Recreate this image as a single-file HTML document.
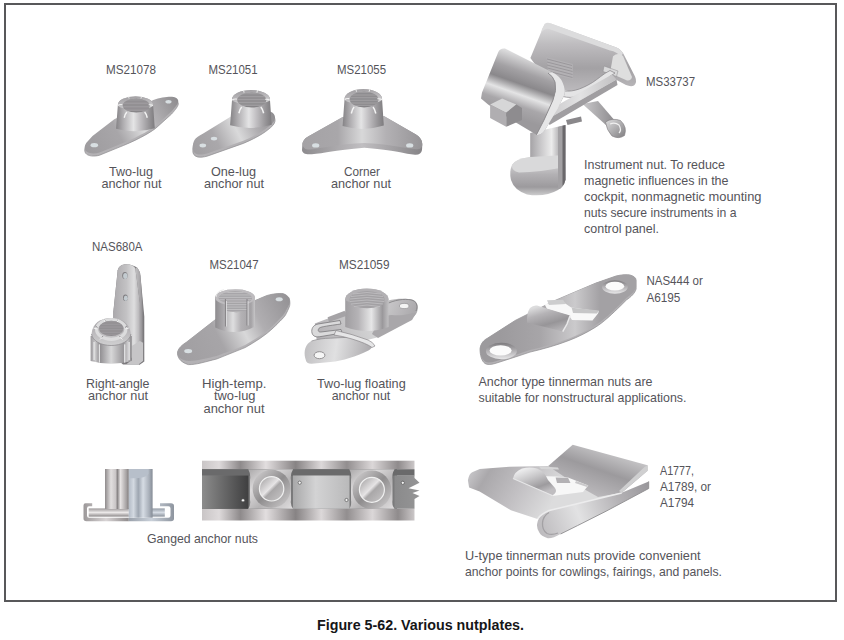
<!DOCTYPE html>
<html><head><meta charset="utf-8">
<style>
html,body{margin:0;padding:0;background:#fff;width:844px;height:640px;overflow:hidden}
svg{display:block;position:absolute;left:0;top:0}
text{font-family:"Liberation Sans",sans-serif;font-size:13px;fill:#55545a}
</style></head><body>
<svg width="844" height="640" viewBox="0 0 844 640">
<defs>
<linearGradient id="gBar" x1="0" y1="0" x2="1" y2="0">
<stop offset="0" stop-color="#858386"/><stop offset="0.18" stop-color="#aeacaf"/><stop offset="0.45" stop-color="#e4e4e5"/><stop offset="0.62" stop-color="#c3c1c4"/><stop offset="0.85" stop-color="#979598"/><stop offset="1" stop-color="#7d7b7e"/>
</linearGradient>
<linearGradient id="gRim" x1="0" y1="0" x2="1" y2="0">
<stop offset="0" stop-color="#9a989b"/><stop offset="0.4" stop-color="#d6d6d7"/><stop offset="0.7" stop-color="#c4c3c5"/><stop offset="1" stop-color="#8c8a8d"/>
</linearGradient>
<linearGradient id="gHole" x1="0" y1="0" x2="0" y2="1">
<stop offset="0" stop-color="#8a888b"/><stop offset="0.6" stop-color="#a3a1a4"/><stop offset="1" stop-color="#b5b3b6"/>
</linearGradient>
<linearGradient id="gPlateA" gradientUnits="userSpaceOnUse" x1="85" y1="150" x2="178" y2="100">
<stop offset="0" stop-color="#9d9b9e"/><stop offset="0.35" stop-color="#a8a6a9"/><stop offset="0.58" stop-color="#dcdcdd"/><stop offset="0.72" stop-color="#b3b1b4"/><stop offset="1" stop-color="#8e8c8f"/>
</linearGradient>
<linearGradient id="gSide" x1="0" y1="0" x2="1" y2="0">
<stop offset="0" stop-color="#8a888b"/><stop offset="0.5" stop-color="#a9a7aa"/><stop offset="1" stop-color="#7f7d80"/>
</linearGradient>
<linearGradient id="gPlateB" gradientUnits="userSpaceOnUse" x1="193" y1="155" x2="275" y2="115">
<stop offset="0" stop-color="#a09ea1"/><stop offset="0.3" stop-color="#aaa8ab"/><stop offset="0.55" stop-color="#d9d9da"/><stop offset="0.75" stop-color="#b0aeb1"/><stop offset="1" stop-color="#8e8c8f"/>
</linearGradient>
<linearGradient id="gPlateC" gradientUnits="userSpaceOnUse" x1="302" y1="140" x2="422" y2="140">
<stop offset="0" stop-color="#a4a2a5"/><stop offset="0.3" stop-color="#a9a7aa"/><stop offset="0.5" stop-color="#d8d8d9"/><stop offset="0.7" stop-color="#b3b1b4"/><stop offset="1" stop-color="#969497"/>
</linearGradient>
<linearGradient id="gSideC" gradientUnits="userSpaceOnUse" x1="302" y1="150" x2="422" y2="150">
<stop offset="0" stop-color="#8d8b8e"/><stop offset="0.5" stop-color="#c0bec1"/><stop offset="1" stop-color="#868487"/>
</linearGradient>
<linearGradient id="gBrk" gradientUnits="userSpaceOnUse" x1="113" y1="0" x2="140" y2="0">
<stop offset="0" stop-color="#aaa8ab"/><stop offset="0.5" stop-color="#c3c2c4"/><stop offset="0.78" stop-color="#dededf"/><stop offset="1" stop-color="#b3b1b4"/>
</linearGradient>
<linearGradient id="gBrkSide" x1="0" y1="0" x2="1" y2="0">
<stop offset="0" stop-color="#c2c1c3"/><stop offset="0.7" stop-color="#a2a0a3"/><stop offset="1" stop-color="#7a787b"/>
</linearGradient>
<linearGradient id="gNutA" gradientUnits="userSpaceOnUse" x1="90.6" y1="0" x2="131.7" y2="0">
<stop offset="0" stop-color="#9c9a9d"/><stop offset="0.12" stop-color="#c9c8ca"/><stop offset="0.22" stop-color="#8f8d90"/><stop offset="0.5" stop-color="#d7d7d8"/><stop offset="0.8" stop-color="#99979a"/><stop offset="0.9" stop-color="#c8c7c9"/><stop offset="1" stop-color="#858386"/>
</linearGradient>
<linearGradient id="gNutTop" x1="0" y1="0" x2="0" y2="1">
<stop offset="0" stop-color="#a3a1a4"/><stop offset="0.5" stop-color="#bab8bb"/><stop offset="1" stop-color="#d0d0d1"/>
</linearGradient>
<linearGradient id="gPlateD" gradientUnits="userSpaceOnUse" x1="178" y1="355" x2="290" y2="297">
<stop offset="0" stop-color="#a09ea1"/><stop offset="0.35" stop-color="#a7a5a8"/><stop offset="0.55" stop-color="#d8d8d9"/><stop offset="0.7" stop-color="#b0aeb1"/><stop offset="1" stop-color="#939194"/>
</linearGradient>
<linearGradient id="gBar2" gradientUnits="userSpaceOnUse" x1="215" y1="0" x2="255" y2="0">
<stop offset="0" stop-color="#8d8b8e"/><stop offset="0.2" stop-color="#a9a7aa"/><stop offset="0.45" stop-color="#dededf"/><stop offset="0.65" stop-color="#b3b1b4"/><stop offset="0.9" stop-color="#a4a2a5"/><stop offset="1" stop-color="#c6c5c7"/>
</linearGradient>
<linearGradient id="gBar3" gradientUnits="userSpaceOnUse" x1="345" y1="0" x2="389" y2="0">
<stop offset="0" stop-color="#9f9da0"/><stop offset="0.3" stop-color="#b5b3b6"/><stop offset="0.6" stop-color="#e6e6e7"/><stop offset="0.85" stop-color="#9a989b"/><stop offset="1" stop-color="#c3c2c4"/>
</linearGradient>
<linearGradient id="gCage" gradientUnits="userSpaceOnUse" x1="315" y1="340" x2="418" y2="300">
<stop offset="0" stop-color="#b1afb2"/><stop offset="0.5" stop-color="#d2d2d3"/><stop offset="1" stop-color="#a9a7aa"/>
</linearGradient>
<linearGradient id="gLobeR" gradientUnits="userSpaceOnUse" x1="388" y1="300" x2="417" y2="312">
<stop offset="0" stop-color="#c9c8ca"/><stop offset="1" stop-color="#a9a7aa"/>
</linearGradient>
<linearGradient id="gLobe" gradientUnits="userSpaceOnUse" x1="306" y1="345" x2="372" y2="355">
<stop offset="0" stop-color="#c2c1c3"/><stop offset="0.45" stop-color="#e0e0e1"/><stop offset="1" stop-color="#a9a7aa"/>
</linearGradient>
<linearGradient id="gBack" gradientUnits="userSpaceOnUse" x1="0" y1="24" x2="0" y2="92">
<stop offset="0" stop-color="#dcdcdd"/><stop offset="0.3" stop-color="#bebcbf"/><stop offset="0.65" stop-color="#a3a1a4"/><stop offset="1" stop-color="#bdbbbe"/>
</linearGradient>
<linearGradient id="gSpring" gradientUnits="userSpaceOnUse" x1="0" y1="75" x2="0" y2="105">
<stop offset="0" stop-color="#dcdcdd"/><stop offset="0.5" stop-color="#b5b3b6"/><stop offset="1" stop-color="#9a989b"/>
</linearGradient>
<linearGradient id="gStrut" x1="0" y1="0" x2="1" y2="0">
<stop offset="0" stop-color="#c9c8ca"/><stop offset="1" stop-color="#8a888b"/>
</linearGradient>
<linearGradient id="gCurl" x1="0" y1="0" x2="1" y2="1">
<stop offset="0" stop-color="#dededf"/><stop offset="1" stop-color="#7f7d80"/>
</linearGradient>
<linearGradient id="gDiag" gradientUnits="userSpaceOnUse" x1="545" y1="0" x2="616" y2="0">
<stop offset="0" stop-color="#c9c8ca"/><stop offset="0.5" stop-color="#e2e2e3"/><stop offset="1" stop-color="#c2c1c3"/>
</linearGradient>
<linearGradient id="gLeftBlk" gradientUnits="userSpaceOnUse" x1="520" y1="55" x2="500" y2="112">
<stop offset="0" stop-color="#dcdcdd"/><stop offset="0.25" stop-color="#a3a1a4"/><stop offset="0.45" stop-color="#8a888b"/><stop offset="0.62" stop-color="#e4e4e5"/><stop offset="0.8" stop-color="#a9a7aa"/><stop offset="1" stop-color="#9b999c"/>
</linearGradient>
<linearGradient id="gArm" gradientUnits="userSpaceOnUse" x1="530" y1="0" x2="566" y2="0">
<stop offset="0" stop-color="#a4a2a5"/><stop offset="0.3" stop-color="#c9c8ca"/><stop offset="0.6" stop-color="#ececec"/><stop offset="0.85" stop-color="#a9a7aa"/><stop offset="1" stop-color="#8c8a8d"/>
</linearGradient>
<linearGradient id="gFoot" gradientUnits="userSpaceOnUse" x1="0" y1="160" x2="0" y2="196">
<stop offset="0" stop-color="#dadadb"/><stop offset="0.4" stop-color="#b3b1b4"/><stop offset="0.75" stop-color="#9c9a9d"/><stop offset="1" stop-color="#d0d0d1"/>
</linearGradient>
<linearGradient id="gPlateE" gradientUnits="userSpaceOnUse" x1="500" y1="330" x2="600" y2="330">
<stop offset="0" stop-color="#9c9a9d"/><stop offset="0.4" stop-color="#a7a5a8"/><stop offset="0.75" stop-color="#cbcacc"/><stop offset="1" stop-color="#a3a1a4"/>
</linearGradient>
<linearGradient id="gHoleRing" x1="0" y1="0" x2="0" y2="1">
<stop offset="0" stop-color="#7d7b7e"/><stop offset="0.5" stop-color="#b3b1b4"/><stop offset="1" stop-color="#e8e8e9"/>
</linearGradient>
<linearGradient id="gTab" gradientUnits="userSpaceOnUse" x1="540" y1="306" x2="548" y2="333">
<stop offset="0" stop-color="#dcdcdd"/><stop offset="0.3" stop-color="#b5b3b6"/><stop offset="0.7" stop-color="#979598"/><stop offset="1" stop-color="#b3b1b4"/>
</linearGradient>
<linearGradient id="gChanL" x1="0" y1="0" x2="1" y2="0">
<stop offset="0" stop-color="#9c9899"/><stop offset="0.5" stop-color="#d8d4d5"/><stop offset="1" stop-color="#8f8b8c"/>
</linearGradient>
<linearGradient id="gChanR" x1="0" y1="0" x2="1" y2="0">
<stop offset="0" stop-color="#9aa1ab"/><stop offset="0.5" stop-color="#c9d0d9"/><stop offset="1" stop-color="#8e959f"/>
</linearGradient>
<linearGradient id="gBarH" x1="0" y1="0" x2="0" y2="1">
<stop offset="0" stop-color="#9d999a"/><stop offset="0.5" stop-color="#ebe8e8"/><stop offset="1" stop-color="#8d898a"/>
</linearGradient>
<linearGradient id="gBarB" x1="0" y1="0" x2="0" y2="1">
<stop offset="0" stop-color="#959ca6"/><stop offset="0.5" stop-color="#d5dbe3"/><stop offset="1" stop-color="#8a919b"/>
</linearGradient>
<linearGradient id="gCylL" x1="0" y1="0" x2="1" y2="0">
<stop offset="0" stop-color="#8f8b8c"/><stop offset="0.25" stop-color="#e2dfdf"/><stop offset="0.45" stop-color="#c9c5c6"/><stop offset="0.52" stop-color="#878384"/><stop offset="0.65" stop-color="#e6e3e3"/><stop offset="0.9" stop-color="#a5a1a2"/><stop offset="1" stop-color="#7e7a7b"/>
</linearGradient>
<linearGradient id="gCylR" x1="0" y1="0" x2="1" y2="0">
<stop offset="0" stop-color="#b4bcc7"/><stop offset="0.2" stop-color="#d3d9e1"/><stop offset="0.4" stop-color="#9ea6b1"/><stop offset="0.6" stop-color="#d6dce4"/><stop offset="0.85" stop-color="#a9b0ba"/><stop offset="1" stop-color="#858c96"/>
</linearGradient>
<linearGradient id="gRail" gradientUnits="userSpaceOnUse" x1="202" y1="0" x2="415" y2="0">
<stop offset="0" stop-color="#c9c5c6"/><stop offset="0.08" stop-color="#dedadb"/><stop offset="0.18" stop-color="#8e8a8b"/><stop offset="0.3" stop-color="#e2dedf"/><stop offset="0.44" stop-color="#878384"/><stop offset="0.56" stop-color="#dcd8d9"/><stop offset="0.68" stop-color="#928e8f"/><stop offset="0.8" stop-color="#dbd7d8"/><stop offset="0.92" stop-color="#8f8b8c"/><stop offset="1" stop-color="#cdc9ca"/>
</linearGradient>
<linearGradient id="gPlL" x1="0" y1="0" x2="1" y2="0">
<stop offset="0" stop-color="#8c8c8c"/><stop offset="1" stop-color="#3f3f40"/>
</linearGradient>
<linearGradient id="gPlM" x1="0" y1="0" x2="1" y2="0">
<stop offset="0" stop-color="#a8a8a9"/><stop offset="0.4" stop-color="#d3d3d4"/><stop offset="1" stop-color="#b9b9ba"/>
</linearGradient>
<linearGradient id="gPlR" x1="0" y1="0" x2="1" y2="0">
<stop offset="0" stop-color="#8a8a8b"/><stop offset="1" stop-color="#959596"/>
</linearGradient>
<linearGradient id="gBlk" x1="0" y1="0" x2="1" y2="1">
<stop offset="0" stop-color="#a9a7a8"/><stop offset="0.3" stop-color="#dcdadb"/><stop offset="0.6" stop-color="#b5b3b4"/><stop offset="1" stop-color="#e0dedf"/>
</linearGradient>
<linearGradient id="gRing" x1="0" y1="0" x2="1" y2="1">
<stop offset="0" stop-color="#d8d6d7"/><stop offset="0.5" stop-color="#8f8d8e"/><stop offset="1" stop-color="#d2d0d1"/>
</linearGradient>
<linearGradient id="gDisc" x1="0" y1="0" x2="1" y2="1">
<stop offset="0" stop-color="#9c9a9b"/><stop offset="0.45" stop-color="#e6e4e5"/><stop offset="0.55" stop-color="#a9a7a8"/><stop offset="1" stop-color="#c9c7c8"/>
</linearGradient>
<linearGradient id="gUtop" gradientUnits="userSpaceOnUse" x1="468" y1="468" x2="545" y2="515">
<stop offset="0" stop-color="#cdcccf"/><stop offset="0.22" stop-color="#aaa8ab"/><stop offset="0.6" stop-color="#c2c0c3"/><stop offset="1" stop-color="#dcdcdd"/>
</linearGradient>
<linearGradient id="gUback" gradientUnits="userSpaceOnUse" x1="610" y1="452" x2="595" y2="495">
<stop offset="0" stop-color="#c4c3c5"/><stop offset="0.45" stop-color="#9c9a9d"/><stop offset="1" stop-color="#b9b7ba"/>
</linearGradient>
<linearGradient id="gUlow" gradientUnits="userSpaceOnUse" x1="540" y1="530" x2="650" y2="485">
<stop offset="0" stop-color="#bdbbbe"/><stop offset="0.35" stop-color="#e2e2e3"/><stop offset="0.7" stop-color="#b5b3b6"/><stop offset="1" stop-color="#98969a"/>
</linearGradient>
<linearGradient id="gTab2" gradientUnits="userSpaceOnUse" x1="530" y1="467" x2="540" y2="494">
<stop offset="0" stop-color="#ececed"/><stop offset="0.35" stop-color="#c9c8ca"/><stop offset="0.75" stop-color="#9d9b9e"/><stop offset="1" stop-color="#bfbdc0"/>
</linearGradient>
<clipPath id="cHT"><path d="M218.5,298 A16.8,7.2 0 0 1 252,298 A16.8,6 0 0 1 247,302.5 L247,310.5 Q236,314 225.4,310.5 L225.4,302.5 A16.8,6 0 0 1 218.5,298 Z"/></clipPath>
<clipPath id="cNutH"><ellipse cx="111.2" cy="328.4" rx="12" ry="7.6"/></clipPath>
<clipPath id="cHole"><ellipse cx="0.8" cy="0.6" rx="14.3" ry="7.8"/></clipPath>
<linearGradient id="gRimT" x1="0" y1="0" x2="0.3" y2="1">
<stop offset="0" stop-color="#9c9a9d"/><stop offset="0.6" stop-color="#b9b7ba"/><stop offset="1" stop-color="#d2d2d3"/>
</linearGradient>
<g id="barrel">
<path d="M-18.75,0 A18.75,10 0 0 1 18.75,0 L20.5,26.5 Q0,33 -20.7,27 Z" fill="url(#gBar)"/>
<path d="M-18.75,0 A18.75,10 0 0 1 18.75,0 A18.75,5 0 0 1 -18.75,0 Z" fill="url(#gRimT)"/>
<ellipse cx="0.8" cy="0.6" rx="14.3" ry="7.8" fill="#858386"/>
<g clip-path="url(#cHole)" stroke="#aeacaf" stroke-width="0.7"><line x1="-16" y1="-6.4" x2="16" y2="-6.4"/><line x1="-16" y1="-4.8" x2="16" y2="-4.8"/><line x1="-16" y1="-3.2" x2="16" y2="-3.2"/><line x1="-16" y1="-1.6" x2="16" y2="-1.6"/><line x1="-16" y1="0.0" x2="16" y2="0.0"/><line x1="-16" y1="1.6" x2="16" y2="1.6"/><line x1="-16" y1="3.2" x2="16" y2="3.2"/><line x1="-16" y1="4.8" x2="16" y2="4.8"/><line x1="-16" y1="6.4" x2="16" y2="6.4"/></g>
<path d="M-12,14.5 Q-11,10 -9.2,8" stroke="#f4f4f4" stroke-width="1.5" fill="none"/>
<path d="M12.5,14.5 Q11.5,10 9.7,8" stroke="#f4f4f4" stroke-width="1.5" fill="none"/>
<path d="M-18.6,0.5 Q-17,-0.8 -14,-0.4" stroke="#f0f0f0" stroke-width="1.1" fill="none"/>
<path d="M18.6,0.8 Q17,-0.5 14,-0.2" stroke="#f0f0f0" stroke-width="1.1" fill="none"/>
<path d="M-7.5,-9.8 L-6.8,-7.3" stroke="#eeeeee" stroke-width="1" fill="none"/>
<path d="M6.5,-9.8 L5.8,-7.3" stroke="#eeeeee" stroke-width="1" fill="none"/>
</g>
</defs>
<rect x="5" y="4" width="831" height="597" fill="none" stroke="#58585a" stroke-width="2"/>

<!-- SHAPES -->
<!-- MS21078 two-lug -->
<g>
<path transform="translate(0,2.6)" d="M92.5,136.1 L114.3,119.2 L153.3,100.1 C160,97.5 168,96.5 172,96.8 C176,97.2 178.5,99 178.3,101.5 C178,103.5 176,106.5 171.5,111.5 L155.6,125.8 C148,131.5 135,138.5 117,145.5 L99.6,152.6 C95,154 88,154 85.5,150.5 C84.2,148 84.5,146 86.2,143.1 Z" fill="#b3b1b4" stroke="#8e8c8f" stroke-width="0.7"/>
<path d="M92.5,136.1 L114.3,119.2 L153.3,100.1 C160,97.5 168,96.5 172,96.8 C176,97.2 178.5,99 178.3,101.5 C178,103.5 176,106.5 171.5,111.5 L155.6,125.8 C148,131.5 135,138.5 117,145.5 L99.6,152.6 C95,154 88,154 85.5,150.5 C84.2,148 84.5,146 86.2,143.1 Z" fill="url(#gPlateA)"/>
<ellipse cx="94.3" cy="145.2" rx="3.8" ry="2.1" fill="#d8dfe2"/>
<ellipse cx="168.5" cy="101.7" rx="3.1" ry="1.8" fill="#d8dfe2"/>
<use href="#barrel" transform="translate(135.5,105) scale(0.94,0.88)"/>
</g>
<!-- MS21051 one-lug -->
<g>
<path transform="translate(0,2.7)" d="M230.5,116.7 L202.8,133.8 C199,136 196,137.5 194.5,140 C192.8,143 192.6,147 193,150 C193.5,152.5 196,154.5 200,154.5 C203,154.5 206,154 210,152.5 L243.3,140.7 C252,137 262,132 268,127 C272,124 274.5,121.5 275,118.5 C275.3,115.5 273.8,112.5 270,111.4 Z" fill="#b3b1b4" stroke="#8e8c8f" stroke-width="0.7"/>
<path d="M230.5,116.7 L202.8,133.8 C199,136 196,137.5 194.5,140 C192.8,143 192.6,147 193,150 C193.5,152.5 196,154.5 200,154.5 C203,154.5 206,154 210,152.5 L243.3,140.7 C252,137 262,132 268,127 C272,124 274.5,121.5 275,118.5 C275.3,115.5 273.8,112.5 270,111.4 Z" fill="url(#gPlateB)"/>
<ellipse cx="202.8" cy="145.5" rx="3.3" ry="1.9" fill="#d8dfe2"/>
<ellipse cx="214" cy="138.6" rx="3.2" ry="1.9" fill="#d8dfe2"/>
<use href="#barrel" transform="translate(251,99.5) scale(1.01,0.95)"/>
</g>
<!-- MS21055 corner -->
<g>
<path d="M302.5,143 C304,139 306,137.5 309,136 L342.7,116.9 L384.3,116.2 L416,134.5 C420,137 422.5,140.5 422.3,145 L422,150 C421.5,153 419,155 415,154.7 C405,154 395,150 364.3,147.7 C335,150 320,154 310,154.3 C305,154.5 302.2,153 302,150 Z" fill="url(#gSideC)"/>
<path d="M302.5,143 C304,139 306,137.5 309,136 L342.7,116.9 L384.3,116.2 L416,134.5 C420,137 422.5,140.5 422.3,145 C422,148 420,149.5 416.6,149.3 C405,148.5 390,144 364.3,143.1 C338,144 322,148.5 310,149.5 C305.5,149.8 302.3,148 302.5,143 Z" fill="url(#gPlateC)"/>
<ellipse cx="315.7" cy="145.4" rx="3.6" ry="2.2" fill="#d8dfe2"/>
<ellipse cx="409.7" cy="145.4" rx="3.6" ry="2.2" fill="#d8dfe2"/>
<use href="#barrel" transform="translate(363.3,99)"/>
</g>
<!-- NAS680A right-angle -->
<g>
<path d="M113.4,311.6 L117.7,270.3 C119,266 122,264.3 126,264.2 C131,264.2 135,266 137.2,267.8 C139,270 140,272 140.5,276 L144.3,316.7 L144.3,361.5 L140,364.5 L123,364.5 L113.4,356.3 Z" fill="#7d7b7e"/>
<path d="M113.4,311.6 L117.7,270.3 C119,266 122,264.3 126,264.2 C131,264.2 134.5,266 135.4,268.7 L139.9,303 L139.9,357.7 L113.4,357.7 Z" fill="url(#gBrk)"/>
<path d="M135.4,268.7 C136.5,267.5 137,267.5 137.2,267.8 C139,270 140,272 140.5,276 L143.5,316.8 L143.5,361 L139.9,357.7 L139.9,303 Z" fill="url(#gBrkSide)"/>
<path d="M131.7,346 L139.9,341 L143.5,343 L143.5,361 L139,364.5 L126,364.5 L131.7,360 Z" fill="#c6c5c7"/>
<path d="M143.5,343 L143.5,361 L139,364.5" stroke="#7a787b" stroke-width="0.8" fill="none"/>
<ellipse cx="124.9" cy="275.5" rx="2.7" ry="3.6" fill="#7f7d80"/>
<ellipse cx="125.3" cy="276" rx="2.2" ry="3" fill="#c3cbd0"/>
<ellipse cx="125.4" cy="297.8" rx="2.4" ry="3.2" fill="#7f7d80"/>
<ellipse cx="125.8" cy="298.2" rx="2" ry="2.7" fill="#c3cbd0"/>
<path d="M90.6,336 L131.7,336 L131.7,361 Q111,366.5 90.6,361 Z" fill="url(#gNutA)"/>
<path d="M91.5,334 C92.5,323 101,318.1 111.2,318.1 C121,318.1 129.5,323 130.9,334 C130,341 121,345.5 111.2,345.5 C101,345.5 92.5,341 91.5,334 Z" fill="url(#gNutTop)"/>
<path d="M91.5,334 C92.5,341 101,345.5 111.2,345.5 C121,345.5 130,341 130.9,334" stroke="#8f8d90" stroke-width="0.8" fill="none"/>
<ellipse cx="111.2" cy="329.5" rx="14.6" ry="9.8" fill="none" stroke="#dcdcdd" stroke-width="3.2"/>
<ellipse cx="111.2" cy="328.4" rx="12" ry="7.6" fill="#8d8b8e"/>
<g clip-path="url(#cNutH)" stroke="#a7a5a8" stroke-width="0.6"><line x1="98" y1="321.4" x2="125" y2="321.4"/><line x1="98" y1="323.0" x2="125" y2="323.0"/><line x1="98" y1="324.6" x2="125" y2="324.6"/><line x1="98" y1="326.2" x2="125" y2="326.2"/><line x1="98" y1="327.8" x2="125" y2="327.8"/><line x1="98" y1="329.4" x2="125" y2="329.4"/><line x1="98" y1="331.0" x2="125" y2="331.0"/><line x1="98" y1="332.6" x2="125" y2="332.6"/><line x1="98" y1="334.2" x2="125" y2="334.2"/></g>
<g stroke="#8a888b" stroke-width="0.9" fill="none"><path d="M95.5,326 L97.5,327.5"/><path d="M127,326 L125,327.5"/><path d="M101.5,338 L103,336"/><path d="M121,338 L119.5,336"/><path d="M104.5,319.5 L105.3,321.5"/><path d="M118,319.5 L117.2,321.5"/></g>
<path d="M94.1,342 L94.1,360 M99.4,344.5 L99.4,362.5 M124.7,344.5 L124.7,362.5 M129.1,342 L129.1,360" stroke="#e2e2e3" stroke-width="1" fill="none"/>
</g>
<g stroke="#f4f4f4" stroke-width="1" fill="none"><path d="M93.5,328 L97,329"/><path d="M128.8,328 L125.4,329"/><path d="M100,339.5 L102.5,337"/><path d="M122.4,339.5 L119.9,337"/><path d="M104,319.6 L105,322"/><path d="M118.4,319.6 L117.4,322"/></g>
<path d="M94.1,342 L94.1,360 M99.4,344.5 L99.4,362.5 M124.7,344.5 L124.7,362.5 M129.1,342 L129.1,360" stroke="#e2e2e3" stroke-width="1" fill="none"/>
</g>
<!-- MS21047 high-temp -->
<g>
<path d="M215.2,319.8 L186.8,341.9 C182,345 178.5,348 177.6,352 C177,357 180,362 188.2,364.6 C196,365 206,361.5 216.7,359 C226,355 236,351.5 245.1,347.6 C255,342 266,335 273.5,327.7 C280,321 285,317 286.3,313.4 C288.5,309 290,306 289.9,303.5 C289.8,299 289,297.5 287.8,296.4 C285,293.5 282,293.3 279.2,293.5 C274,293.8 270,294.5 266.4,295.7 L255,300.6 Z" fill="#b3b1b4" stroke="#8e8c8f" stroke-width="0.7"/>
<path d="M215.2,319.8 L186.8,341.9 C182,345 178.5,348 177.6,352 C177,356 179,359 186,360.8 C195,361.5 206,358.5 216.7,356 C226,352.5 236,349 245.1,345 C255,339.5 266,332.5 273.5,325 C280,318.5 284.5,314.5 286,310.5 C288,306.5 290,304 289.9,301.5 C289.8,298 289,297.5 287.8,296.4 C285,293.5 282,293.3 279.2,293.5 C274,293.8 270,294.5 266.4,295.7 L255,300.6 Z" fill="url(#gPlateD)"/>
<ellipse cx="188.2" cy="351.1" rx="4" ry="2.2" fill="#d8dfe2"/>
<ellipse cx="279.2" cy="299.2" rx="3.5" ry="2" fill="#d8dfe2"/>
<path d="M215.2,297.5 A19.9,8.2 0 0 1 255,297.5 L255,326.5 Q235,337 215.2,327.5 Z" fill="url(#gBar2)"/>
<ellipse cx="235.1" cy="297.5" rx="19.9" ry="8.2" fill="#bebcbf"/>
<path d="M218.5,298 A16.8,7.2 0 0 1 252,298 A16.8,6 0 0 1 247,302.5 L247,310.5 Q236,314 225.4,310.5 L225.4,302.5 A16.8,6 0 0 1 218.5,298 Z" fill="#9d9b9e"/>
<g clip-path="url(#cHT)" stroke="#c8c6c9" stroke-width="0.8"><line x1="215" y1="290.8" x2="255" y2="290.8"/><line x1="215" y1="292.5" x2="255" y2="292.5"/><line x1="215" y1="294.2" x2="255" y2="294.2"/><line x1="215" y1="295.9" x2="255" y2="295.9"/><line x1="215" y1="297.6" x2="255" y2="297.6"/><line x1="215" y1="299.3" x2="255" y2="299.3"/><line x1="215" y1="301.0" x2="255" y2="301.0"/><line x1="215" y1="302.7" x2="255" y2="302.7"/><line x1="215" y1="304.4" x2="255" y2="304.4"/><line x1="215" y1="306.1" x2="255" y2="306.1"/><line x1="215" y1="307.8" x2="255" y2="307.8"/><line x1="215" y1="309.5" x2="255" y2="309.5"/><line x1="215" y1="311.2" x2="255" y2="311.2"/></g>
<path d="M225.4,299 L225.4,326.5 M247,299 L247,325.5" stroke="#7e7c7f" stroke-width="0.9" fill="none"/>
<path d="M226.5,301 L226.5,326.5 M248.1,301 L248.1,325.5" stroke="#e2e2e3" stroke-width="0.8" fill="none"/>
<path d="M216,297 Q217,290.5 224,289.8" stroke="#e6e6e7" stroke-width="0.9" fill="none"/>
</g>
<!-- MS21059 floating -->
<g>
<path d="M314.8,323.4 L345,312 L388,300.5 C395,298.5 405,298 412,299.5 C417,301 418.5,305 417.5,310 C417,314 414,317 410,319 L376,337.7 L340,347 L318,352 Z" fill="url(#gCage)"/>
<path d="M381.6,316 L416.6,312.5 L412,320 L378,338 L372,334 Z" fill="#a9a7aa"/>
<path d="M388.6,303 C398,299 408,298.5 413,300.5 C417,302.5 418,307 416,311 C412,314 402,316 392,315 L387,312 Z" fill="url(#gLobeR)"/>
<path d="M388.6,303 C398,299 408,298.5 413,300.5 C417,302.5 418,307 416,311" stroke="#7f7d80" stroke-width="0.8" fill="none"/>
<ellipse cx="404.2" cy="306" rx="4.8" ry="2.6" fill="#f4f4f4" stroke="#8d8b8e" stroke-width="0.6"/>
<path d="M327.6,317.3 L344.7,310.7 L346,316 L329,322 Z" fill="#a5a3a6"/>
<path d="M304.8,350.5 C306,345 309,342 311.5,341 C318,339 324,338.3 330.4,338.2 L349.4,337.2 C357,337.5 364,340 368.4,343 C371,344.5 372.5,345.5 372.1,347 C371,349 369.5,350 368.4,350.5 C362,353.5 356,356 349.4,358 C343,360 337,361.5 330.4,361.9 L311.5,363.8 C308,363.8 306,362 305.8,360 C304.8,357 304.3,354 304.8,350.5 Z" fill="url(#gLobe)"/>
<path d="M311.5,341 C318,339 324,338.3 330.4,338.2 L349.4,337.2 C357,337.5 364,340 368.4,343" stroke="#8d8b8e" stroke-width="0.7" fill="none"/>
<path d="M318,324 C313,325 311,329 312,333 C313,336.5 316,337.5 321,336.5 L342,333 L341,329.5 L321,332 C318.5,332.3 317.5,330.5 318.8,328.6 C320,327 323,326.5 341,324 L340,320.5 Z" fill="#dadadb" stroke="#6f6d70" stroke-width="0.7"/>
<path d="M336,330.5 Q352,334 368,340 Q373,342 375,346 L372,347.5 Q367,343.5 352,339 Q342,336 334,335 Z" fill="#e6e6e7" stroke="#7d7b7e" stroke-width="0.6"/>
<ellipse cx="319.5" cy="355.2" rx="5.4" ry="3.5" fill="#f6f6f6" stroke="#7d7b7e" stroke-width="0.8"/>
<path d="M345.2,299.4 A21.7,11 0 0 1 388.6,299.4 L388.6,327 Q367,335 345.2,327 Z" fill="url(#gBar3)"/>
<path d="M345.2,299.4 A21.7,11 0 0 1 388.6,299.4 A21.7,4 0 0 1 345.2,299.4 Z" fill="#b3b1b4"/>
<ellipse cx="367.1" cy="299.7" rx="17.5" ry="8.6" fill="#a3a1a4"/>
<g stroke="#c2c0c3" stroke-width="0.8" fill="none"><path d="M353,294 Q367,291 381,294"/><path d="M351,296.5 Q367,293.5 383,296.5"/><path d="M350,299 Q367,296 384,299"/><path d="M350,301.5 Q367,298.5 384,301.5"/><path d="M351,304 Q367,301 383,304"/><path d="M354,306.5 Q367,303.5 380,306.5"/></g>
</g>
<!-- MS33737 instrument nut -->
<g>
<path d="M530.2,133 L565.4,125 L565.4,180 L530.2,180 Z" fill="url(#gArm)"/>
<path d="M530.2,157 Q515,159 512,165 Q509,172 511,180 Q514,190 527,194.5 Q545,197.5 558,190 Q564,186 565.4,180 L565.4,158 Z" fill="url(#gFoot)"/>
<path d="M530.2,157 Q515,159 512,165 Q511.5,171 519,172.5 Q540,172 565.4,167 L565.4,155 Z" fill="#d9d9da"/>
<path d="M558,127 L565.4,125 L565.4,180 Q564,186 560,189 L558,189 Z" fill="#a3a1a4"/>
<path d="M562.5,126 L565.4,125 L565.4,180 Q564.5,184 562.5,186 Z" fill="#6a686b"/>
<path d="M530.4,58 L544.5,24 Q547,22 551,23.5 L613,46.2 Q619,47.5 623,53 L635,76.4 Q637.5,82 634,85.5 Q631,87 626,85 L609,76 L596.8,80 L580.7,95.5 L564.6,90 L548,82 Z" fill="url(#gBack)"/>
<path d="M542,29 Q545,22 551,23.5 L613,46.2 Q619,47.5 623,53 L621,57 Q617,51.5 610,50.5 L549,29 Q545,28 541,33 Z" fill="#dcdcdd"/>
<path d="M613,56.3 Q618,52 623,56 L632,77 Q631,81 627,80.4 L610,73 Z" fill="#dedede"/>
<path d="M546.5,57 L572.7,64 L573,79 L548,74 Z" fill="#b3b1b4"/>
<g stroke="#8f8d90" stroke-width="0.7"><line x1="547" y1="59" x2="572" y2="65.5"/><line x1="547" y1="62" x2="572" y2="68.5"/><line x1="547" y1="65" x2="572.5" y2="71.5"/><line x1="547.5" y1="68" x2="572.5" y2="74.5"/><line x1="547.5" y1="71" x2="572.5" y2="77.5"/></g>
<path d="M604,66 L618,71 L616.5,76.5 L603,71.5 Z" fill="#d8d8d9" stroke="#8f8d90" stroke-width="0.5"/>
<path d="M560,90 C570,93 580,90 592.5,82.5 C598,79 603,74 610,70.5 L615,73 C608,77 601,84 595,88.5 C583,96.5 572,99 563,96.5 Z" fill="#e4e4e5" stroke="#858386" stroke-width="0.7"/>
<path d="M582.5,104 L598,101 L616,122 L607,126 Z" fill="url(#gStrut)"/>
<path d="M605.5,122 Q612,117.5 620.5,120.5 Q627.5,127 624.5,135.5 Q619,139.5 612,136 Q606.5,130 605.5,122 Z" fill="url(#gCurl)" stroke="#7d7b7e" stroke-width="0.6"/>
<path d="M610,124 Q615,122 619,125 Q622,130 619,133" stroke="#f0f0f0" stroke-width="1.2" fill="none"/>
<path d="M543.5,113 L612,74.5 L616.5,79.5 L547,119.5 Z" fill="url(#gDiag)"/>
<path d="M547,119.5 L616.5,79.5 L617.5,85 L549.5,125 Z" fill="#a09ea1"/>
<path d="M566,120 L581,116.5 L582,121.5 L567.5,125 Z" fill="#8a888b"/>
<path d="M481,98.6 L482,92.5 L498.2,52.2 Q500,48 505,48.5 L552.5,72.4 Q560,76 562.6,82.5 Q565.5,89 564.6,94.5 L556.6,110.6 L544.5,130.8 Q541,135.5 536.4,134.8 L516.3,122.7 L488.1,104.6 Z" fill="url(#gLeftBlk)"/>
<path d="M552.5,72.4 Q560,76 562.6,82.5 Q565.5,89 564.6,94.5 L556.6,110.6 L544.5,130.8 Q541,135.5 536.4,134.8 L544,120 L553,100 Q557,90 555,82 Q553,76 548,73 Z" fill="#e6e6e7"/>
<path d="M548,73 Q553,76 555,82 Q557,90 553,100 L544,120 L536.4,134.8" stroke="#8d8b8e" stroke-width="1" fill="none"/>
<path d="M490.1,104.6 L502.2,98.6 L516.3,104.6 L506.2,112.7 Z" fill="#d6d6d7"/>
<path d="M490.1,104.6 L506.2,112.7 L506.2,126.8 L490.1,118 Z" fill="#b0aeb1"/>
<path d="M506.2,112.7 L516.3,104.6 L522,108 L522,120 L506.2,126.8 Z" fill="#8e8c8f"/>
</g>
<!-- NAS444 tinnerman -->
<g>
<path d="M480,348.6 C481,343 484,340 487,338.5 L515.3,320.4 L555.6,300.2 L595.8,283.1 L616,276 C622,274.5 627,274.5 630,275 C634,276 636,278 636.1,280.1 L636.1,289 C635,293 631,297 626.4,300 L621.2,305.2 C612,314 604,322 595.2,327.4 C586,333 578,337 569.1,340.4 C556,345.5 543,349 530,352.1 L515.3,357 L495.1,363.5 C491,364.8 487,364.8 485,363.5 C481.5,361 480,355 480,348.6 Z" fill="#b3b1b4" stroke="#8e8c8f" stroke-width="0.7"/>
<path d="M480,348.6 C481,343 484,340 487,338.5 L515.3,320.4 L555.6,300.2 L595.8,283.1 L616,276 C622,274.5 627,274.5 630,275 C634,276 636,278 636.1,280.1 L636.1,287 C635,291 631,295 626.4,298 L621.2,303.2 C612,312 604,320 595.2,325.4 C586,331 578,335 569.1,338.4 C556,343.5 543,347 530,350.1 L515.3,355 L495.1,361.5 C491,362.8 487,362.8 485,361.5 C481.5,359 480,354 480,348.6 Z" fill="url(#gPlateE)"/>
<ellipse cx="501.4" cy="351" rx="15.5" ry="8.3" fill="url(#gHoleRing)"/>
<ellipse cx="500.6" cy="350.4" rx="11" ry="5.2" fill="#fbfbfb"/>
<ellipse cx="614.9" cy="287" rx="12.9" ry="6.8" fill="url(#gHoleRing)"/>
<ellipse cx="614.9" cy="286.2" rx="9.3" ry="4.4" fill="#fbfbfb"/>
<path d="M544.5,303.9 L562.7,301.7 L571.2,307.6 L598.9,311.3 L598,313.5 L592.5,320.5 L572,320 L569,315.6 L560,313 L547,309 Z" fill="#f8f8f8"/>
<path d="M547,300.2 L563,299.8 L566,304 L549,305 Z" fill="#cdcdce"/>
<path d="M571.7,307.8 L599,310.5 L597,313.5 L573,313 Z" fill="#c6c6c7"/>
<path d="M530,308 Q533,305 537,305.5 L560,312.5 L570.1,315.6 L567,324 L562.7,331.6 L527,322.5 Q526.5,313 530,308 Z" fill="url(#gTab)"/>
<path d="M570.1,315.6 L567,324 L562.7,331.6" stroke="#e9e9ea" stroke-width="1.5" fill="none"/>
</g>
<!-- Ganged side -->
<g>
<path d="M92.2,503.2 L85.5,503.2 Q83.5,503.2 83.5,505.5 L83.5,518.5 Q83.5,521.2 86.5,521.2 L128.8,521.2 L128.8,517.7 L89,517.7 Q87,517.7 87,515.5 L87,508.5 Q87,506.2 89,506.2 L92.2,506.2 Z" fill="url(#gChanL)"/>
<rect x="88.7" y="508.4" width="40.1" height="8.2" fill="url(#gBarH)"/>
<rect x="105" y="469" width="23.8" height="40" fill="url(#gCylL)"/>
<path d="M160,503.2 L171,503.2 Q174,503.2 174,506 L174,518.5 Q174,521.2 171,521.2 L128.8,521.2 L128.8,517.7 L168.5,517.7 Q170.5,517.7 170.5,515.5 L170.5,508.5 Q170.5,506.2 168.5,506.2 L160,506.2 Z" fill="url(#gChanR)"/>
<rect x="128.8" y="508.4" width="36" height="8.2" fill="url(#gBarB)"/>
<rect x="128.8" y="469" width="23.8" height="48.7" fill="url(#gCylR)"/>
<path d="M130,469 L148.5,469 L148.5,474 Q145,478.3 135,478.3 L130,478.3 Z" fill="#b7bfca"/>
</g>
<!-- Ganged channel strip -->
<g>
<rect x="202" y="460.7" width="212.5" height="8.5" fill="url(#gRail)"/>
<rect x="202" y="508.8" width="212.5" height="11.7" fill="url(#gRail)"/>
<rect x="202" y="469.2" width="195" height="39.8" fill="#7a7a7b"/>
<rect x="202" y="469.2" width="212.5" height="6.5" fill="#6a6a6b"/>
<rect x="202" y="475.5" width="46.5" height="33.3" fill="url(#gPlL)"/>
<rect x="293" y="475.5" width="56.5" height="33.3" fill="url(#gPlM)"/>
<path d="M394.5,475.5 L414.5,475.5 L414.5,478 L419.5,482.8 L408.5,488.3 L419.5,490.4 L412.5,493.1 L419.5,495.9 L414.5,499 L414.5,508.8 L394.5,508.8 Z" fill="url(#gPlR)"/>
<path d="M248.2,469.2 L293.1,469.2 Q290,474 291,480 L291,500 Q290,505 293.1,508.8 L248.2,508.8 Q251,505 250,500 L250,480 Q251,474 248.2,469.2 Z" fill="url(#gBlk)"/>
<path d="M349.2,469.2 L394.6,469.2 Q391.5,474 392.5,480 L392.5,500 Q391.5,505 394.6,508.8 L349.2,508.8 Q352,505 351,500 L351,480 Q352,474 349.2,469.2 Z" fill="url(#gBlk)"/>
<circle cx="271.6" cy="488.8" r="19" fill="url(#gRing)"/>
<circle cx="271.6" cy="488.8" r="12.2" fill="url(#gDisc)" stroke="#f0f0f0" stroke-width="1.2"/>
<circle cx="371.9" cy="489.8" r="19.3" fill="url(#gRing)"/>
<circle cx="371.9" cy="489.8" r="12.5" fill="url(#gDisc)" stroke="#f0f0f0" stroke-width="1.2"/>
<circle cx="243" cy="500.3" r="1.6" fill="#f2f2f2" stroke="#444" stroke-width="0.6"/>
<circle cx="299.7" cy="482.7" r="1.6" fill="#f2f2f2" stroke="#444" stroke-width="0.6"/>
<circle cx="346.5" cy="500" r="1.6" fill="#f2f2f2" stroke="#444" stroke-width="0.6"/>
<circle cx="402.8" cy="482.8" r="1.6" fill="#f2f2f2" stroke="#444" stroke-width="0.6"/>
</g>
<!-- U-type tinnerman -->
<g>
<path d="M549.2,509.8 L621.7,492.7 L648.7,481.4 L648.7,488.5 L606.1,511.2 L577.7,525.5 L560.6,534 Q553,538.5 547.8,538.2 Q541,536.5 539.3,532.6 Q536.5,528 537.1,524 Q538.5,517 542.1,514.1 Z" fill="url(#gUlow)"/>
<path d="M549,512.5 Q543,516 542.5,523 Q542,530 547,533.5 Q552,535.5 558,533" stroke="#a3a1a4" stroke-width="1.3" fill="none"/>
<path d="M648.7,481.4 L648.7,488.5 L606.1,511.2 L577.7,525.5 L560.6,534" stroke="#8f8d90" stroke-width="0.9" fill="none"/>
<path d="M467.9,480.3 Q469,473.5 472.7,472 L479.8,469 L509.4,466.7 L548.2,465.9 L580,478 L621.7,492.7 L549.2,510.5 Q541,514 537.5,519 L510.9,510.3 L479.6,491.6 L469.1,487.4 Z" fill="url(#gUtop)"/>
<path d="M548.2,465.9 L572.7,444.8 L647.6,465.2 L647.6,470.7 L621.7,492.7 L598,497 L575,484 Z" fill="url(#gUback)"/>
<path d="M647.6,465.2 L647.6,470.7 L621.7,492.7 L619,491 L644.5,467 Z" fill="#cfcfd0"/>
<path d="M621.7,493 L549.2,510.5 Q541,514 537.5,519" stroke="#ececed" stroke-width="1.6" fill="none"/>
<path d="M539,476 L556,476.5 L568,477.5 L588.3,485.4 L583,492 L552,496 L545,490 Z" fill="#f7f7f7"/>
<path d="M555.6,477.5 L568,477.8 L570.5,483 L557,483 Z" fill="#b3b1b4"/>
<path d="M576,481 L588.3,485.4 L587,487 L575,483 Z" fill="#c9c8ca"/>
<path d="M513,478.6 Q514,472 522,468.5 Q530,466.5 537,468.5 Q545,472 548,480 L555,488 Q558,492 552.3,495.5 Z" fill="url(#gTab2)"/>
<path d="M513,478.6 L552.3,495.5" stroke="#e6e6e7" stroke-width="1.1" fill="none"/>
<path d="M538.8,466.3 L557.9,467.4 L559,469.5 L541,469 Z" fill="#d6d6d7"/>
</g>

<!-- TEXT -->
<g>
<text x="106" y="73.5" textLength="50" lengthAdjust="spacingAndGlyphs">MS21078</text>
<text x="208.5" y="73.5" textLength="49" lengthAdjust="spacingAndGlyphs">MS21051</text>
<text x="337" y="73.5" textLength="49" lengthAdjust="spacingAndGlyphs">MS21055</text>
<text x="109" y="176" textLength="44" lengthAdjust="spacingAndGlyphs">Two-lug</text>
<text x="101.5" y="188.4" textLength="60" lengthAdjust="spacingAndGlyphs">anchor nut</text>
<text x="211" y="176" textLength="45" lengthAdjust="spacingAndGlyphs">One-lug</text>
<text x="204" y="188.4" textLength="60" lengthAdjust="spacingAndGlyphs">anchor nut</text>
<text x="344" y="176" textLength="36" lengthAdjust="spacingAndGlyphs">Corner</text>
<text x="331" y="188.4" textLength="60" lengthAdjust="spacingAndGlyphs">anchor nut</text>
<text x="646" y="86" textLength="49" lengthAdjust="spacingAndGlyphs">MS33737</text>
<text x="584" y="169" textLength="141" lengthAdjust="spacingAndGlyphs">Instrument nut. To reduce</text>
<text x="584" y="184.8" textLength="144.5" lengthAdjust="spacingAndGlyphs">magnetic influences in the</text>
<text x="584" y="200.6" textLength="177.5" lengthAdjust="spacingAndGlyphs">cockpit, nonmagnetic mounting</text>
<text x="584" y="217" textLength="152.5" lengthAdjust="spacingAndGlyphs">nuts secure instruments in a</text>
<text x="584" y="233" textLength="75" lengthAdjust="spacingAndGlyphs">control panel.</text>
<text x="92" y="251.2" textLength="50.5" lengthAdjust="spacingAndGlyphs">NAS680A</text>
<text x="209.5" y="268.5" textLength="49" lengthAdjust="spacingAndGlyphs">MS21047</text>
<text x="339" y="268.8" textLength="50.5" lengthAdjust="spacingAndGlyphs">MS21059</text>
<text x="86" y="387.5" textLength="63.5" lengthAdjust="spacingAndGlyphs">Right-angle</text>
<text x="88" y="400.4" textLength="60" lengthAdjust="spacingAndGlyphs">anchor nut</text>
<text x="202" y="387.5" textLength="64.4" lengthAdjust="spacingAndGlyphs">High-temp.</text>
<text x="214" y="400.4" textLength="41.5" lengthAdjust="spacingAndGlyphs">two-lug</text>
<text x="203.5" y="413" textLength="61" lengthAdjust="spacingAndGlyphs">anchor nut</text>
<text x="317" y="387.5" textLength="88.7" lengthAdjust="spacingAndGlyphs">Two-lug floating</text>
<text x="331.7" y="400.4" textLength="58.6" lengthAdjust="spacingAndGlyphs">anchor nut</text>
<text x="646.4" y="285.3" textLength="56.4" lengthAdjust="spacingAndGlyphs">NAS444 or</text>
<text x="646.4" y="301.6" textLength="34" lengthAdjust="spacingAndGlyphs">A6195</text>
<text x="478.5" y="386.3" textLength="174" lengthAdjust="spacingAndGlyphs">Anchor type tinnerman nuts are</text>
<text x="478.5" y="402.3" textLength="208" lengthAdjust="spacingAndGlyphs">suitable for nonstructural applications.</text>
<text x="147" y="542.5" textLength="111" lengthAdjust="spacingAndGlyphs">Ganged anchor nuts</text>
<text x="660" y="474.8" textLength="34" lengthAdjust="spacingAndGlyphs">A1777,</text>
<text x="660" y="491.4" textLength="51" lengthAdjust="spacingAndGlyphs">A1789, or</text>
<text x="660" y="507" textLength="34" lengthAdjust="spacingAndGlyphs">A1794</text>
<text x="465" y="560.4" textLength="235.5" lengthAdjust="spacingAndGlyphs">U-type tinnerman nuts provide convenient</text>
<text x="465" y="576" textLength="257" lengthAdjust="spacingAndGlyphs">anchor points for cowlings, fairings, and panels.</text>
<text x="317" y="629.8" textLength="207" lengthAdjust="spacingAndGlyphs" style="font-weight:bold;font-size:14px;fill:#161618">Figure 5-62. Various nutplates.</text>
</g>
</svg>
</body></html>
